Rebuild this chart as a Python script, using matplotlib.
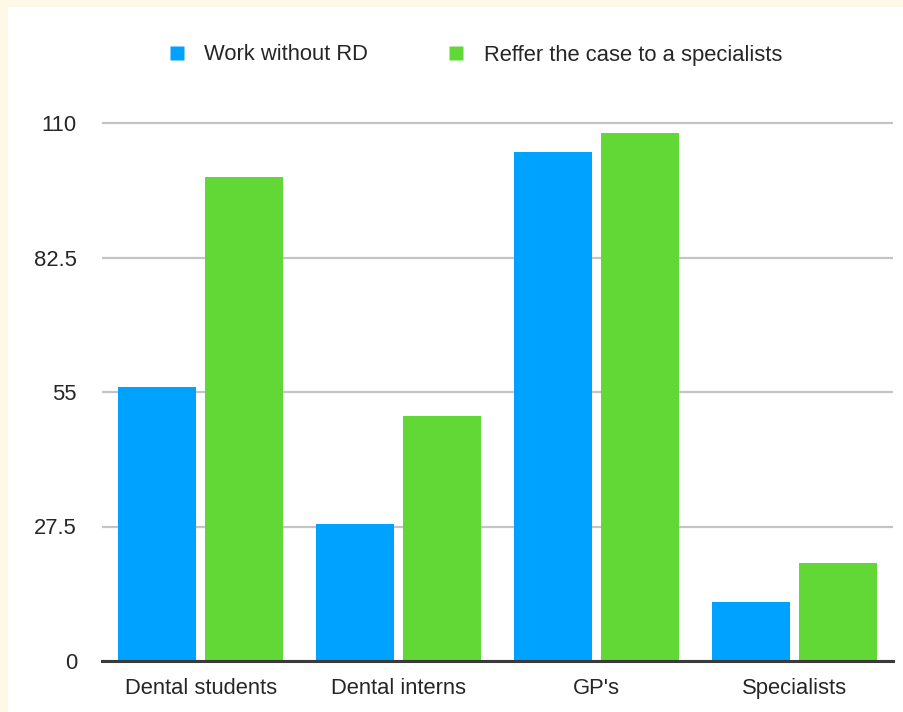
import matplotlib
matplotlib.use("Agg")
import matplotlib.pyplot as plt
from matplotlib.patches import Rectangle
from matplotlib.lines import Line2D
import numpy as np

categories = ["Dental students", "Dental interns", "GP's", "Specialists"]
work_without_rd = [56, 28, 104, 12]
refer_to_specialist = [99, 50, 108, 20]
series_names = ["Work without RD", "Reffer the case to a specialists"]
y_ticks = [0, 27.5, 55, 82.5, 110]
y_tick_labels = ["0", "27.5", "55", "82.5", "110"]

BLUE = "#00A2FF"
GREEN = "#61D836"
TEXT = "#262626"

plt.rcParams["font.family"] = ["Liberation Sans", "DejaVu Sans"]

W, H = 904, 712
fig = plt.figure(figsize=(W / 100, H / 100), dpi=100)
fig.patch.set_facecolor("#FEF9E6")
# white panel with a thin cream margin on the top and left
fig.add_artist(Rectangle((8 / W, 0), 1 - 8 / W, 1 - 7 / H,
                         transform=fig.transFigure, facecolor="white",
                         edgecolor="none", zorder=0))

ymax = 112
y0_px, px_per_unit = 661, 538 / 110
top_px = y0_px - ymax * px_per_unit
left, right = 102 / W, 893 / W
bottom = 1 - y0_px / H
top = 1 - top_px / H
ax = fig.add_axes([left, bottom, right - left, top - bottom])
ax.set_facecolor("none")

x = np.arange(len(categories))
bw, off = 0.395, 0.22
ax.bar(x - off, work_without_rd, bw, color=BLUE, zorder=3)
ax.bar(x + off, refer_to_specialist, bw, color=GREEN, zorder=3)

ax.set_xlim(-0.5, len(categories) - 0.5)
ax.set_ylim(0, ymax)
ax.set_yticks(y_ticks)
ax.set_yticklabels(y_tick_labels)
ax.set_xticks(x)
ax.set_xticklabels(categories)
ax.tick_params(axis="y", length=0, pad=18, labelsize=15.8, labelcolor=TEXT)
ax.tick_params(axis="x", length=0, pad=12, labelsize=15.8, labelcolor=TEXT)

ax.grid(axis="y", color="#c4c4c4", linewidth=1.6, zorder=1)
for s in ["top", "right", "left"]:
    ax.spines[s].set_visible(False)
ax.spines["bottom"].set_color("#3a3a3a")
ax.spines["bottom"].set_linewidth(2.2)
ax.spines["bottom"].set_zorder(4)

handles = [Line2D([], [], marker="s", linestyle="none", markersize=10.5,
                  markerfacecolor=c, markeredgecolor="none")
           for c in (BLUE, GREEN)]
fig.legend(handles, series_names, loc="center",
           bbox_to_anchor=(474 / W, 1 - 55 / H), ncol=2, frameon=False,
           fontsize=15.8, labelcolor=TEXT, handlelength=1.0,
           handletextpad=0.75, columnspacing=3.5)

fig.savefig("out.png", dpi=100, facecolor=fig.get_facecolor())
